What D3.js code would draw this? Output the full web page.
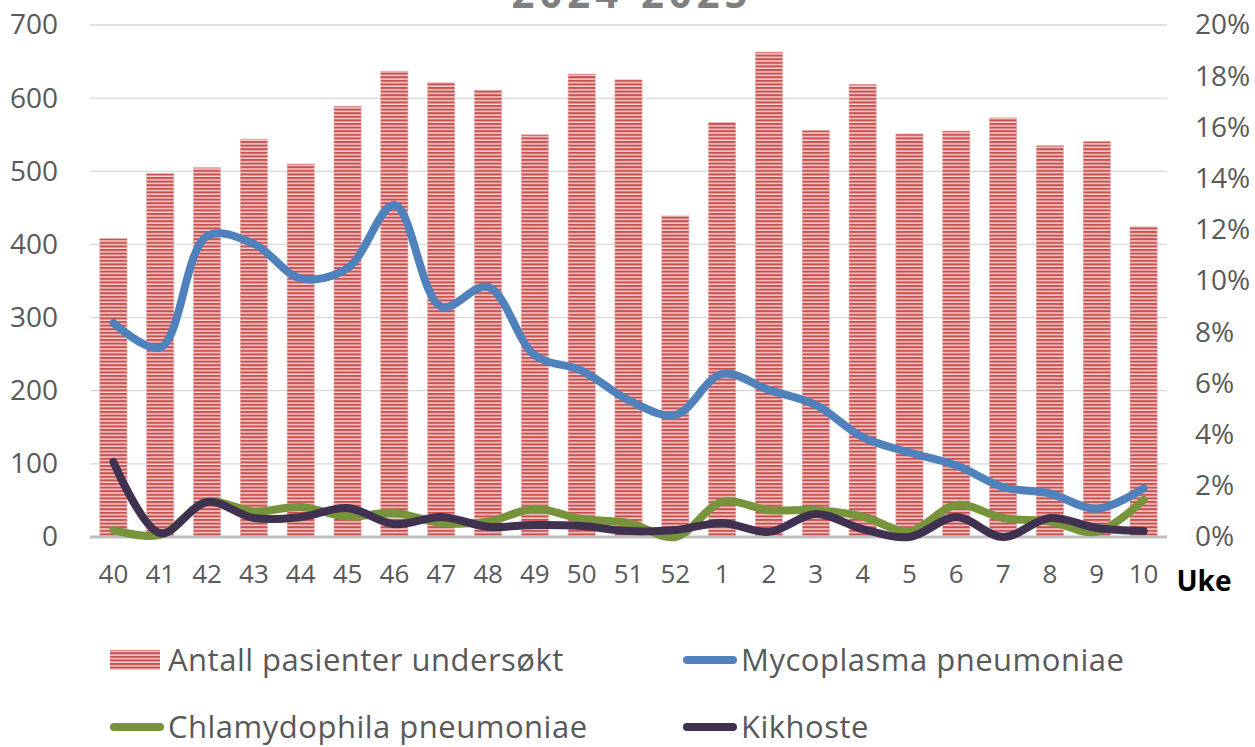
<!DOCTYPE html>
<html><head><meta charset="utf-8">
<script src="https://cdn.jsdelivr.net/npm/d3@7"></script>
<style>body{margin:0;background:#fff}svg{display:block}</style>
</head><body>
<svg id="c" width="1255" height="747"></svg>
<script>
const weeks = ["40","41","42","43","44","45","46","47","48","49","50","51","52","1","2","3","4","5","6","7","8","9","10"];
const patients = [408,497,505,544,510,589,637,621,611,550,633,625,439,567,663,556,619,551,555,573,535,541,424];
const mycoplasma = [8.36,7.4,11.76,11.45,10.1,10.5,12.97,9.0,9.77,7.1,6.5,5.35,4.77,6.37,5.74,5.16,3.9,3.3,2.8,1.95,1.7,1.1,1.9];
const chlamydophila = [0.27,0.08,1.37,1.0,1.17,0.8,0.94,0.55,0.6,1.1,0.7,0.55,0.0,1.37,1.05,1.05,0.8,0.23,1.25,0.74,0.6,0.2,1.45];
const kikhoste = [2.93,0.15,1.37,0.74,0.78,1.13,0.5,0.78,0.4,0.47,0.43,0.23,0.27,0.55,0.2,0.9,0.31,0.0,0.78,0.0,0.74,0.35,0.23];
const leftTicks = [0,100,200,300,400,500,600,700];
const rightTicks = [0,2,4,6,8,10,12,14,16,18,20];
const seriesNames = ["Antall pasienter undersøkt","Mycoplasma pneumoniae","Chlamydophila pneumoniae","Kikhoste"];
const title = "2024-2025";

const svg = d3.select("#c");
const FONT = "'Open Sans', sans-serif";
const pLeft = 90, pRight = 1167, pTop = 25, pBottom = 537;

const defs = svg.append("defs");
const pat = defs.append("pattern").attr("id","stripes").attr("patternUnits","userSpaceOnUse")
  .attr("width",8).attr("height",3.6).attr("y",pBottom);
pat.append("rect").attr("width",8).attr("height",3.6).attr("fill","#F4D3D2");
pat.append("rect").attr("width",8).attr("height",2.1).attr("fill","#C9504E");

const x = d3.scaleBand().domain(weeks).range([pLeft,pRight]).paddingInner(0.42).paddingOuter(0.21);
const yL = d3.scaleLinear().domain([0,700]).range([pBottom,pTop]);
const yR = d3.scaleLinear().domain([0,20]).range([pBottom,pTop]);

svg.append("text").attr("x",632).attr("y",8).attr("text-anchor","middle")
  .attr("font-family",FONT).attr("font-weight","bold").attr("font-size",40)
  .attr("fill","#7F7F7F").attr("letter-spacing",5).text(title);

svg.append("g").selectAll("line").data(leftTicks.filter(d=>d>0)).join("line")
  .attr("x1",pLeft).attr("x2",pRight).attr("y1",d=>yL(d)).attr("y2",d=>yL(d))
  .attr("stroke","#D9D9D9").attr("stroke-width",1.3);

svg.append("g").selectAll("rect").data(patients).join("rect")
  .attr("x",(d,i)=>x(weeks[i])).attr("width",x.bandwidth())
  .attr("y",d=>yL(d)).attr("height",d=>pBottom-yL(d))
  .attr("fill","url(#stripes)").attr("stroke","#E8A9A8").attr("stroke-width",0.6);

svg.append("line").attr("x1",pLeft).attr("x2",pRight).attr("y1",pBottom).attr("y2",pBottom)
  .attr("stroke","#BFBFBF").attr("stroke-width",3);

const axL = svg.append("g").attr("transform",`translate(${pLeft},0)`)
  .call(d3.axisLeft(yL).tickValues(leftTicks).tickSize(0).tickPadding(32));
axL.select(".domain").remove();
axL.selectAll("text").attr("font-family",FONT).attr("font-size",28).attr("fill","#595959");

const axR = svg.append("g").attr("transform",`translate(${pRight},0)`)
  .call(d3.axisRight(yR).tickValues(rightTicks).tickSize(0).tickPadding(28).tickFormat(d=>d+"%"));
axR.select(".domain").remove();
axR.selectAll("text").attr("font-family",FONT).attr("font-size",28).attr("fill","#595959");

const axB = svg.append("g").attr("transform",`translate(0,${pBottom})`)
  .call(d3.axisBottom(x).tickSize(0).tickPadding(28));
axB.select(".domain").remove();
axB.selectAll("text").attr("font-family",FONT).attr("font-size",26).attr("fill","#595959");

svg.append("text").attr("x",1204).attr("y",591).attr("text-anchor","middle")
  .attr("font-family",FONT).attr("font-weight","bold").attr("font-size",28).attr("fill","#000").text("Uke");

const cx = i => x(weeks[i]) + x.bandwidth()/2;
const line = d3.line().x((d,i)=>cx(i)).y(d=>yR(d)).curve(d3.curveCatmullRom.alpha(0.5));
const lineSeries = [
  {data:mycoplasma, color:"#4F81BD"},
  {data:chlamydophila, color:"#77933C"},
  {data:kikhoste, color:"#403151"}
];
svg.append("g").selectAll("path").data(lineSeries).join("path")
  .attr("d",d=>line(d.data)).attr("fill","none").attr("stroke",d=>d.color)
  .attr("stroke-width",8).attr("stroke-linecap","round").attr("stroke-linejoin","round");

const lg = svg.append("g");
const legendItems = [
  {name:seriesNames[0], type:"bar", x:110, y:660},
  {name:seriesNames[1], type:"line", color:"#4F81BD", x:683, y:660},
  {name:seriesNames[2], type:"line", color:"#77933C", x:110, y:727},
  {name:seriesNames[3], type:"line", color:"#403151", x:683, y:727}
];
legendItems.forEach(it=>{
  if(it.type==="bar"){
    lg.append("rect").attr("x",it.x).attr("y",it.y-10).attr("width",50).attr("height",20)
      .attr("fill","url(#stripes)");
  } else {
    lg.append("line").attr("x1",it.x+4).attr("x2",it.x+50).attr("y1",it.y).attr("y2",it.y)
      .attr("stroke",it.color).attr("stroke-width",8).attr("stroke-linecap","round");
  }
  lg.append("text").attr("x",it.x+58).attr("y",it.y+11)
    .attr("font-family",FONT).attr("font-size",31).attr("letter-spacing",0.5).attr("fill","#595959").text(it.name);
});
</script>
</body></html>
